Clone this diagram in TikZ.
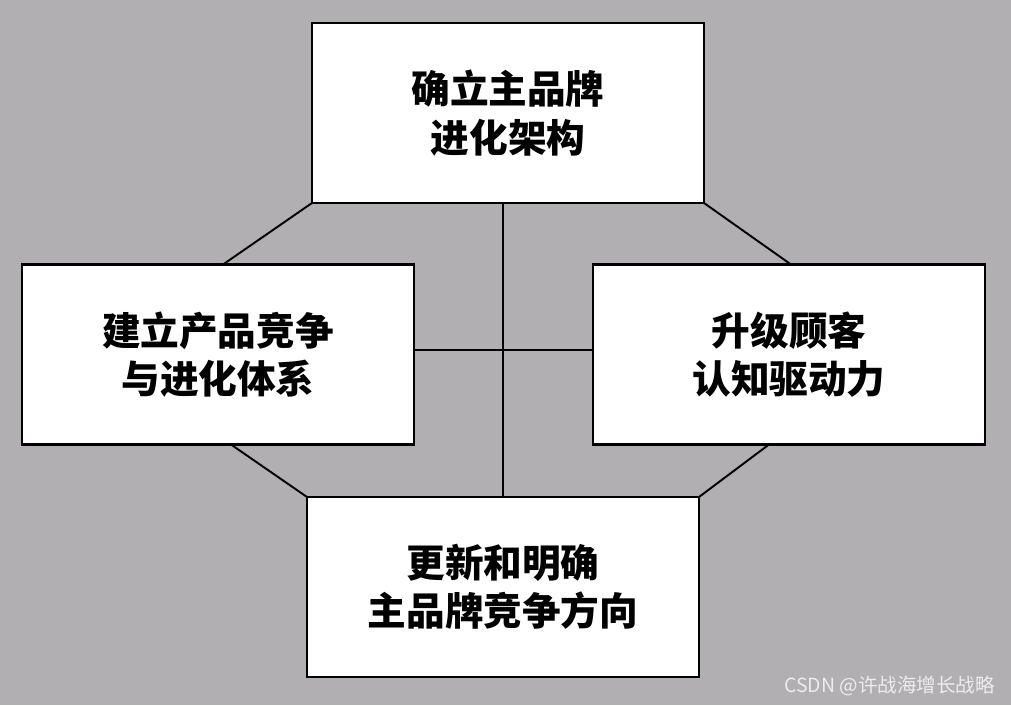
\documentclass[tikz,border=0pt]{standalone}
\usepackage{fontspec}
\newfontfamily\cjk{Noto Sans CJK SC}
\usetikzlibrary{positioning}
\definecolor{fondo}{RGB}{177,175,178}
\definecolor{marca}{RGB}{236,236,238}
\tikzset{
  caja/.style={draw=black, fill=white, line width=1.4pt, minimum width=7.84cm,
    minimum height=3.6cm, inner sep=0pt, outer sep=0pt, align=center,
    font=\cjk\bfseries\fontsize{22}{27.5}\selectfont},
  enlace/.style={line width=1.1pt, black}
}
\begin{document}
\begin{tikzpicture}
      % Fondo
      \fill[fondo] (0,0) rectangle (20.22,14.1);
      \useasboundingbox (0,0) rectangle (20.22,14.1);

      % Cajas
      \node[caja] (arriba) at (10.16,11.84) {确立主品牌\\进化架构};
      \node[caja] (izq) at (4.36,7.01) {建立产品竞争\\与进化体系};
      \node[caja] (der) at (15.78,7.01) {升级顾客\\认知驱动力};
      \node[caja] (abajo) at (10.06,2.36) {更新和明确\\主品牌竞争方向};

      % Cruz central
      \draw[enlace] (arriba.south -| abajo.north) -- (abajo.north);
      \draw[enlace] ([yshift=0.09cm]izq.east) -- ([yshift=0.09cm]der.west);

      % Diagonales
      \draw[enlace] (arriba.south west) -- ([xshift=0.1cm]izq.north);
      \draw[enlace] (arriba.south east) -- ([xshift=0.04cm]der.north);
      \draw[enlace] ([xshift=0.26cm]izq.south) -- (abajo.north west);
      \draw[enlace] ([xshift=-0.4cm]der.south) -- (abajo.north east);

      % Marca de agua
      \node[anchor=east, text=marca, font=\cjk\fontsize{11.1}{13}\selectfont, inner sep=0pt]
        (marcaagua) at (19.9,0.38) {CSDN @许战海增长战略};
    \end{tikzpicture}
\end{document}
